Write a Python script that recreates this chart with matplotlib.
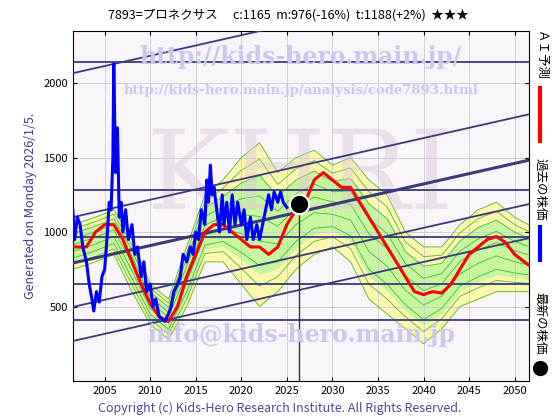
import matplotlib
matplotlib.use("Agg")
import matplotlib.pyplot as plt
import numpy as np

plt.rcParams['font.family'] = ['Noto Sans CJK JP', 'DejaVu Sans']

title = "7893=プロネクサス　 c:1165  m:976(-16%)  t:1188(+2%)  ★★★"
past_x = [2001.5,2001.7,2002,2002.3,2002.6,2003,2003.3,2003.6,2003.8,2004.1,2004.4,2004.7,2005,2005.3,2005.5,2005.7,2005.9,2006.0,2006.2,2006.4,2006.6,2006.8,2007,2007.3,2007.6,2008,2008.3,2008.6,2009,2009.3,2009.6,2010,2010.3,2010.6,2011,2011.3,2011.6,2012,2012.3,2012.6,2013,2013.3,2013.6,2014,2014.4,2014.7,2015,2015.3,2015.6,2016,2016.2,2016.4,2016.6,2016.8,2017,2017.3,2017.6,2017.9,2018.1,2018.4,2018.7,2019,2019.3,2019.6,2020,2020.3,2020.6,2021,2021.3,2021.7,2022,2022.5,2023,2023.3,2023.6,2024,2024.3,2024.6,2025]
past_y = [1150,950,1100,1050,900,800,650,550,470,600,530,700,750,1000,1200,1150,1500,2130,1400,1700,1100,1200,1000,1150,950,1050,850,900,700,800,600,650,500,550,430,420,400,450,500,600,650,700,850,800,900,850,1000,950,1150,1050,1350,1200,1450,1250,1300,1150,1000,1250,1050,1200,1000,1250,1050,1200,1050,1150,950,1100,950,1050,950,1100,1250,1150,1270,1200,1270,1200,1165]
ai_x = [2001.5]+list(range(2003,2051))+[2051.5]
ai_y = [900,900,1000,1050,1050,950,800,650,520,430,400,500,700,850,1000,1050,1050,1000,950,900,900,850,900,1050,1150,1200,1350,1400,1350,1300,1300,1200,1100,1000,900,800,700,600,580,600,590,650,750,850,900,950,970,930,850,780]
band_x = [2001.5,2004,2006,2008,2010,2012,2014,2016,2018,2020,2022,2024,2026,2028,2030,2032,2034,2036,2038,2040,2042,2044,2046,2048,2050,2051.5]
band_hi = [1050,1100,1150,950,650,550,900,1250,1350,1500,1600,1400,1500,1550,1450,1500,1350,1250,1000,900,900,1050,1150,1200,1100,1050]
band_lo = [750,800,850,600,380,280,500,800,800,650,500,600,750,850,900,800,550,450,350,250,350,500,550,600,600,600]
h_levels = [2141,1282,966,651,409]
diag_start = [2067,1100,792,497,268]
diag_slope = 13.8
latest = (2026.3, 1190)

fig = plt.figure(figsize=(5.6,4.2), dpi=100)
ax = fig.add_axes([0.130,0.093,0.815,0.833])
ax.set_facecolor('#f9f5f9')
ax.set_xlim(2001.5,2051.6); ax.set_ylim(0,2350)
ax.set_xticks(range(2005,2051,5)); ax.set_yticks([500,1000,1500,2000])
ax.grid(True, color='#cccccc', lw=0.6)
ax.tick_params(labelsize=8, direction='in', length=3, top=True, right=True)

bx = np.array(band_x); hi=np.array(band_hi); lo=np.array(band_lo)
mid=(hi+lo)/2; sp=(hi-lo)/2
ax.fill_between(bx, lo, hi, color='#fff7b0', zorder=1)
ax.fill_between(bx, mid-0.6*sp, mid+0.6*sp, color='#c8f5a0', zorder=1)
for f in [1.0,0.8,0.6,0.35,0.1,-0.2,-0.5,-0.75,-1.0]:
    ax.plot(bx, mid+f*sp, color='#44bb33', lw=0.6, zorder=2)

xs = np.array([2001.5,2051.6])
for v in h_levels:
    ax.axhline(v, color='#3a3a7a', lw=1.3, zorder=3)
for i,v in enumerate(diag_start):
    ax.plot(xs, v+diag_slope*(xs-2001.5), color='#3a3a7a', lw=2.2 if i==2 else 1.3, zorder=3)

ax.text(0.5,0.58,"KHRI", transform=ax.transAxes, ha='center', va='center', fontsize=80, family='DejaVu Serif', color='#d8c8d8', alpha=0.45, zorder=2)
ax.text(0.5,0.905,"http://kids-hero.main.jp/", transform=ax.transAxes, ha='center', fontsize=17, family='DejaVu Serif', weight='bold', color='#c8c8f0', zorder=6)
ax.text(0.5,0.82,"http://kids-hero.main.jp/analysis/code7893.html", transform=ax.transAxes, ha='center', fontsize=9.5, family='DejaVu Serif', weight='bold', color='#c8c8f0', zorder=6)
ax.text(0.5,0.11,"info@kids-hero.main.jp", transform=ax.transAxes, ha='center', fontsize=17, family='DejaVu Serif', weight='bold', color='#c8c8f0', zorder=6)

ax.plot(ai_x, ai_y, color='#ff0000', lw=2.2, zorder=4)
ax.plot(past_x, past_y, color='#0000ff', lw=2.2, zorder=5)
ax.plot([latest[0]]*2, [0, latest[1]], color='#333333', lw=1, zorder=4)
ax.plot(*latest, 'o', ms=14, color='black', mec='white', mew=1.5, zorder=7)

fig.text(0.515,0.955,title, ha='center', fontsize=9)
fig.text(0.055,0.51,"Generated on Monday 2026/1/5.", rotation=90, ha='center', va='center', fontsize=9, color='#3a3a8a')
fig.text(0.5,0.02,"Copyright (c) Kids-Hero Research Institute. All Rights Reserved.", ha='center', fontsize=9, color='#4a4a9a')
fig.text(0.965,0.87,"ＡＩ予測", rotation=270, ha='center', va='center', fontsize=9)
fig.text(0.965,0.55,"過去の株価", rotation=270, ha='center', va='center', fontsize=9)
fig.text(0.965,0.23,"最新の株価", rotation=270, ha='center', va='center', fontsize=9)
fig.add_artist(plt.Line2D([0.965,0.965],[0.665,0.79], color='red', lw=3))
fig.add_artist(plt.Line2D([0.965,0.965],[0.38,0.46], color='blue', lw=3))
fig.add_artist(plt.Line2D([0.965],[0.125], marker='o', ms=10, color='black'))
fig.savefig("out.png", dpi=100)
